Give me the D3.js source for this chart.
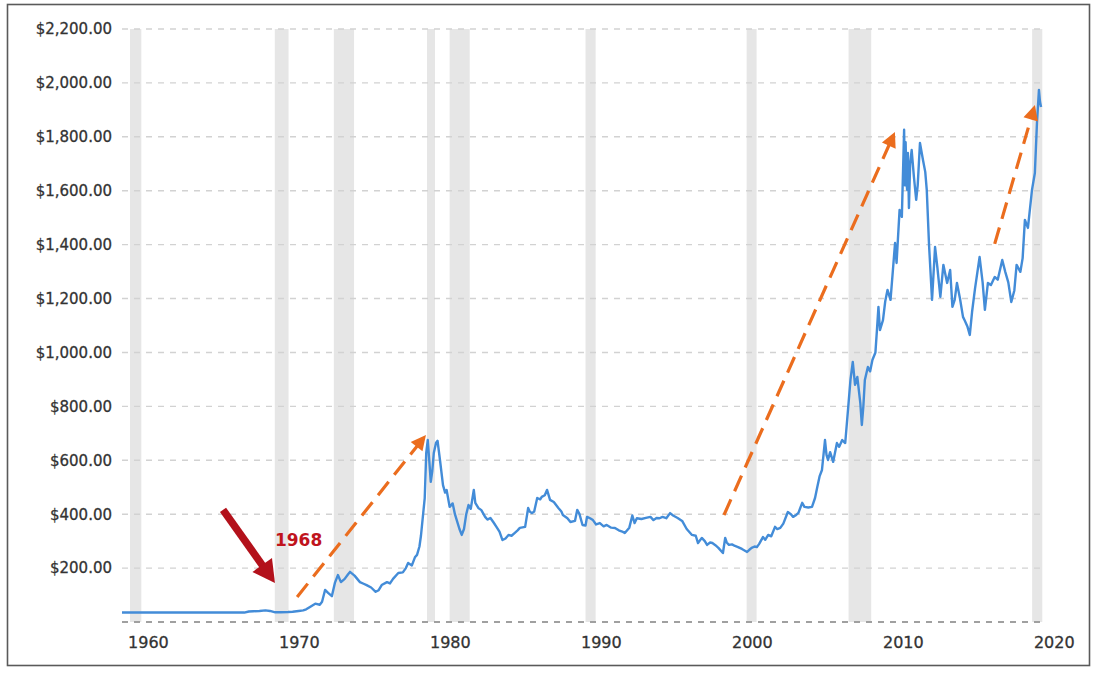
<!DOCTYPE html>
<html><head><meta charset="utf-8">
<script src="https://cdn.jsdelivr.net/npm/d3@7"></script>
<style>body{margin:0;background:#fff}svg{display:block}text{font-family:"DejaVu Sans",Verdana,sans-serif}</style>
</head><body><svg id="c" width="1100" height="675"></svg>
<script>
// ---- data ----
const years = [1959.8,1961,1962,1963,1964,1965,1966,1967,1967.9,1968.2,1968.5,1968.9,1969.3,1969.6,1969.95,1970.3,1970.8,1971.1,1971.5,1971.8,1972.0,1972.25,1972.6,1972.9,1973.05,1973.25,1973.45,1973.7,1973.9,1974.1,1974.3,1974.55,1974.75,1974.9,1975.2,1975.56,1975.8,1976.0,1976.3,1976.6,1976.8,1977.0,1977.35,1977.55,1977.75,1978.1,1978.4,1978.6,1978.75,1979.0,1979.2,1979.34,1979.5,1979.6,1979.75,1979.85,1979.95,1980.05,1980.15,1980.25,1980.35,1980.45,1980.6,1980.7,1980.86,1981.06,1981.2,1981.3,1981.5,1981.7,1981.85,1981.97,1982.15,1982.3,1982.45,1982.6,1982.75,1982.9,1983.1,1983.2,1983.4,1983.6,1983.85,1984.0,1984.2,1984.4,1984.6,1984.8,1985.0,1985.2,1985.4,1985.6,1985.8,1986.0,1986.15,1986.5,1986.7,1986.8,1986.95,1987.1,1987.3,1987.5,1987.6,1987.8,1987.95,1988.15,1988.4,1988.7,1988.9,1989.0,1989.3,1989.5,1989.8,1989.95,1990.1,1990.3,1990.5,1990.6,1990.8,1990.99,1991.2,1991.45,1991.7,1991.9,1992.2,1992.45,1992.7,1992.98,1993.1,1993.4,1993.6,1993.75,1993.9,1994.2,1994.5,1994.8,1995.0,1995.2,1995.4,1995.6,1995.85,1996.1,1996.3,1996.6,1996.9,1997.2,1997.55,1997.8,1997.95,1998.2,1998.4,1998.55,1998.75,1998.9,1999.1,1999.3,1999.6,1999.75,1999.85,2000.0,2000.2,2000.4,2000.6,2000.86,2001.2,2001.35,2001.5,2001.7,2001.85,2002.0,2002.25,2002.4,2002.6,2002.8,2003.05,2003.2,2003.4,2003.6,2003.9,2004.1,2004.25,2004.4,2004.6,2004.85,2005.0,2005.25,2005.5,2005.7,2005.85,2006.0,2006.16,2006.36,2006.46,2006.56,2006.7,2006.9,2007.15,2007.3,2007.5,2007.7,2007.9,2008.05,2008.2,2008.35,2008.5,2008.7,2008.8,2008.9,2009.0,2009.2,2009.35,2009.5,2009.7,2009.8,2009.9,2010.0,2010.2,2010.35,2010.5,2010.7,2010.85,2011.0,2011.1,2011.3,2011.45,2011.6,2011.65,2011.7,2011.75,2011.8,2011.85,2011.92,2012.0,2012.1,2012.25,2012.4,2012.5,2012.65,2012.85,2013.0,2013.1,2013.25,2013.45,2013.65,2013.8,2014.0,2014.2,2014.45,2014.65,2014.8,2014.95,2015.1,2015.3,2015.5,2015.6,2015.8,2015.95,2016.1,2016.3,2016.6,2016.8,2016.95,2017.15,2017.35,2017.6,2017.8,2018.1,2018.3,2018.5,2018.7,2018.9,2019.05,2019.3,2019.45,2019.6,2019.8,2020.07,2020.26,2020.4,2020.53,2020.6,2020.67];
const prices = [35,35,35,35,35,35,35,35,35,39,40,41,43,41,36,36,37,38,41,43,47,56,68,64,75,119,108,96,145,174,148,160,175,186,172,148,142,137,128,112,118,137,148,143,160,182,184,200,219,210,240,249,280,320,404,460,627,675,600,520,560,627,665,672,601,508,480,490,427,440,400,378,345,323,345,400,434,420,490,442,423,415,390,380,386,370,353,335,304,310,323,320,330,340,349,353,423,410,404,410,460,455,464,470,490,453,445,423,410,397,385,371,375,416,400,360,358,390,385,378,362,367,355,360,350,349,340,334,330,350,395,367,385,382,386,390,378,386,385,390,385,404,395,386,375,345,323,320,293,312,300,286,295,293,285,275,256,312,295,286,288,282,278,271,260,268,275,280,278,290,315,305,323,318,353,345,349,365,408,400,390,395,405,442,427,425,427,460,501,540,564,675,620,601,630,594,664,650,675,664,798,900,965,880,909,812,731,800,898,946,930,972,1000,1083,1169,1083,1120,1190,1232,1195,1300,1406,1332,1529,1503,1826,1620,1780,1640,1603,1740,1536,1700,1751,1651,1566,1620,1777,1714,1670,1603,1400,1195,1391,1317,1206,1325,1258,1306,1169,1195,1258,1200,1132,1120,1095,1065,1150,1239,1354,1260,1158,1258,1250,1280,1270,1343,1299,1260,1187,1230,1325,1299,1350,1492,1462,1603,1666,1852,1974,1930,1911];
const yTickValues = [0,200,400,600,800,1000,1200,1400,1600,1800,2000,2200];
const xTickYears = [1960,1970,1980,1990,2000,2010,2020];
const recessionStarts = [1960.33,1969.92,1973.83,1980.0,1981.5,1990.5,2001.17,2007.92,2020.08];
const recessionEnds   = [1961.08,1970.83,1975.17,1980.5,1982.83,1991.17,2001.83,2009.42,2020.75];
// annotation arrows: [startYear, startPrice, endYear, endPrice]
const orangeArrows = [[1971.4,93,1979.93,694],[1999.67,397,2010.99,1818],[2017.6,1403,2020.26,1918]];
const redArrow = [1966.49,416,1969.93,145];
const redLabel = {text:"1968", year:1969.93, price:281};

// ---- chart ----
const svg = d3.select("#c");
const x = d3.scaleLinear().domain([1959.8,2020.6]).range([122,1040]);
const y = d3.scaleLinear().domain([0,2200]).range([622,29]);

svg.append("rect").attr("width",1100).attr("height",675).attr("fill","#fff");
svg.append("rect").attr("x",7.5).attr("y",4.5).attr("width",1082).attr("height",661)
  .attr("fill","none").attr("stroke","#5a5a5a").attr("stroke-width",1.6);

// recession bands
svg.append("g").selectAll("rect").data(recessionStarts).join("rect")
  .attr("x",(d)=>x(d)).attr("width",(d,i)=>Math.max(8,x(recessionEnds[i])-x(d)))
  .attr("y",y(2200)).attr("height",y(0)-y(2200)).attr("fill","#e6e6e6");

// gridlines
svg.append("g").selectAll("line").data(yTickValues).join("line")
  .attr("x1",x.range()[0]).attr("x2",x.range()[1]).attr("y1",d=>y(d)).attr("y2",d=>y(d))
  .attr("stroke",d=>d===0?"#a0a0a0":"#d2d2d2").attr("stroke-width",d=>d===0?1.8:1.4)
  .attr("stroke-dasharray","6,6");

// y labels
const fmt = d3.format("$,.2f");
svg.append("g").selectAll("text").data(yTickValues.filter(d=>d>0)).join("text")
  .attr("x",112).attr("y",d=>y(d)).attr("dy","0.36em").attr("text-anchor","end")
  .attr("font-size",15).attr("fill","#333").attr("stroke","#333").attr("stroke-width",0.3)
  .text(d=>fmt(d));

// x labels
svg.append("g").selectAll("text").data(xTickYears).join("text")
  .attr("x",d=>x(d)+3).attr("y",648).attr("text-anchor","start")
  .attr("font-size",16).attr("fill","#333").attr("stroke","#333").attr("stroke-width",0.3)
  .text(d=>d);

// price line
const pts = years.map((yr,i)=>[yr,prices[i]]);
svg.append("path").datum(pts).attr("fill","none").attr("stroke","#438cd8")
  .attr("stroke-width",2.4).attr("stroke-linejoin","round")
  .attr("d",d3.line().x(d=>x(d[0])).y(d=>y(d[1])));

// arrows
function arrow(a, color, width, headLen, headHalf, dash){
  const x1=x(a[0]), y1=y(a[1]), x2=x(a[2]), y2=y(a[3]);
  const dx=x2-x1, dy=y2-y1, L=Math.hypot(dx,dy), ux=dx/L, uy=dy/L;
  const bx=x2-ux*headLen, by=y2-uy*headLen;
  const ln = svg.append("line").attr("x1",x1).attr("y1",y1).attr("x2",bx+ux*1).attr("y2",by+uy*1)
    .attr("stroke",color).attr("stroke-width",width);
  if(dash) ln.attr("stroke-dasharray",dash);
  svg.append("path").attr("fill",color)
    .attr("d",`M${x2},${y2}L${bx-uy*headHalf},${by+ux*headHalf}L${bx+uy*headHalf},${by-ux*headHalf}Z`);
}
orangeArrows.forEach(a=>arrow(a,"#eb6d1e",3.2,15,7.5,"17,9"));
arrow(redArrow,"#b3111b",7.5,22,12,null);

svg.append("text").attr("x",x(redLabel.year)).attr("y",y(redLabel.price))
  .attr("font-size",17).attr("font-weight","bold").attr("fill","#c0141d").text(redLabel.text);
</script></body></html>
